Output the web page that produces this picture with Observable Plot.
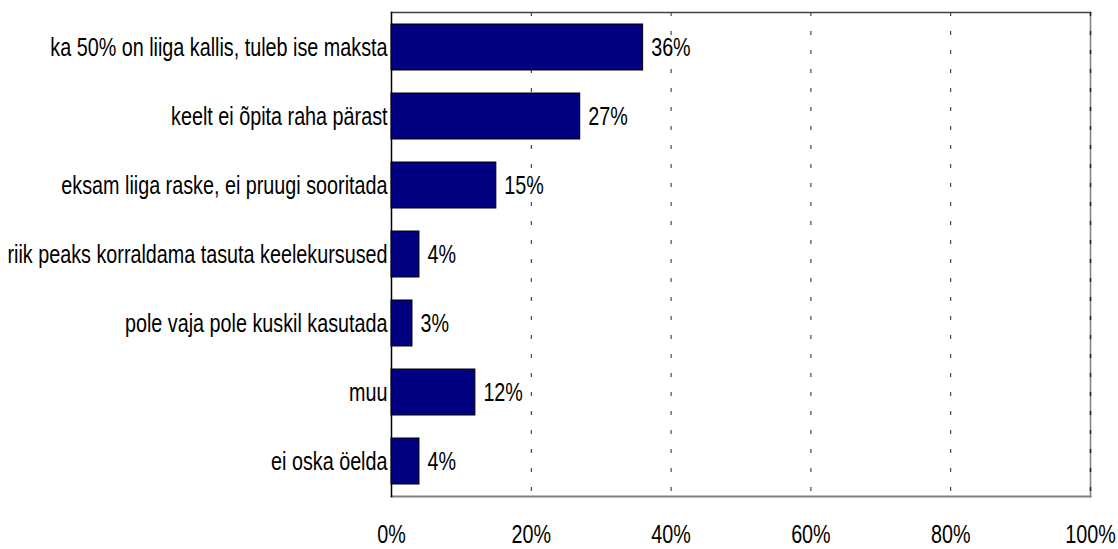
<!DOCTYPE html>
<html>
<head>
<meta charset="utf-8">
<script src="https://cdn.jsdelivr.net/npm/d3@7"></script>
<script src="https://cdn.jsdelivr.net/npm/@observablehq/plot@0.6"></script>
<style>
  html, body { margin: 0; padding: 0; background: #fff; }
  #chart svg { display: block; }
</style>
</head>
<body>
<div id="chart"></div>
<script>
const categories = [
  "ka 50% on liiga kallis, tuleb ise maksta",
  "keelt ei õpita raha pärast",
  "eksam liiga raske, ei pruugi sooritada",
  "riik peaks korraldama tasuta keelekursused",
  "pole vaja pole kuskil kasutada",
  "muu",
  "ei oska öelda"
];
const values = [36, 27, 15, 4, 3, 12, 4];
const xTicks = [0, 20, 40, 60, 80, 100];

const data = categories.map((c, i) => ({category: c, value: values[i]}));
const font = "'Liberation Sans', Arial, sans-serif";
const fs = 26;

const chart = Plot.plot({
  width: 1118,
  height: 549,
  marginLeft: 391,
  marginRight: 28,
  marginTop: 12,
  marginBottom: 53,
  style: {fontFamily: font, fontSize: fs + "px", color: "#000", background: "#fff"},
  x: {domain: [0, 100]},
  y: {domain: categories, paddingInner: 0.333, paddingOuter: 0.1667},
  marks: [
    Plot.ruleX(xTicks.filter(d => d > 0 && d < 100), {stroke: "#222", strokeDasharray: "4,15", strokeWidth: 1}),
    Plot.frame({anchor: "top", stroke: "#404040", strokeWidth: 1.5}),
    Plot.frame({anchor: "bottom", stroke: "#808080", strokeWidth: 2}),
    Plot.frame({anchor: "right", stroke: "#808080", strokeWidth: 1.5}),
    Plot.ruleX([100], {stroke: "#222", strokeDasharray: "4,15", strokeWidth: 1.5}),
    Plot.frame({anchor: "left", stroke: "#000", strokeWidth: 1.5}),
    Plot.barX(data, {y: "category", x: "value", fill: "#000080", stroke: "#000", strokeWidth: 1}),
    Plot.text(data, {y: "category", x: "value", text: d => d.value + "%", textAnchor: "start", dx: 8, fontSize: fs, fill: "#000"}),
    Plot.axisY({tickSize: 0, tickPadding: 4, label: null, fontSize: fs}),
    Plot.axisX({ticks: xTicks, tickSize: 0, tickPadding: 28, tickFormat: d => d + "%", label: null, fontSize: fs})
  ]
});
document.getElementById("chart").appendChild(chart);

// condense text horizontally to mimic the narrow typeface of the original
const squeeze = 0.76;
chart.querySelectorAll("text").forEach(t => {
  const w = t.getComputedTextLength();
  if (w > 0) {
    t.setAttribute("textLength", (w * squeeze).toFixed(2));
    t.setAttribute("lengthAdjust", "spacingAndGlyphs");
  }
});
</script>
</body>
</html>
